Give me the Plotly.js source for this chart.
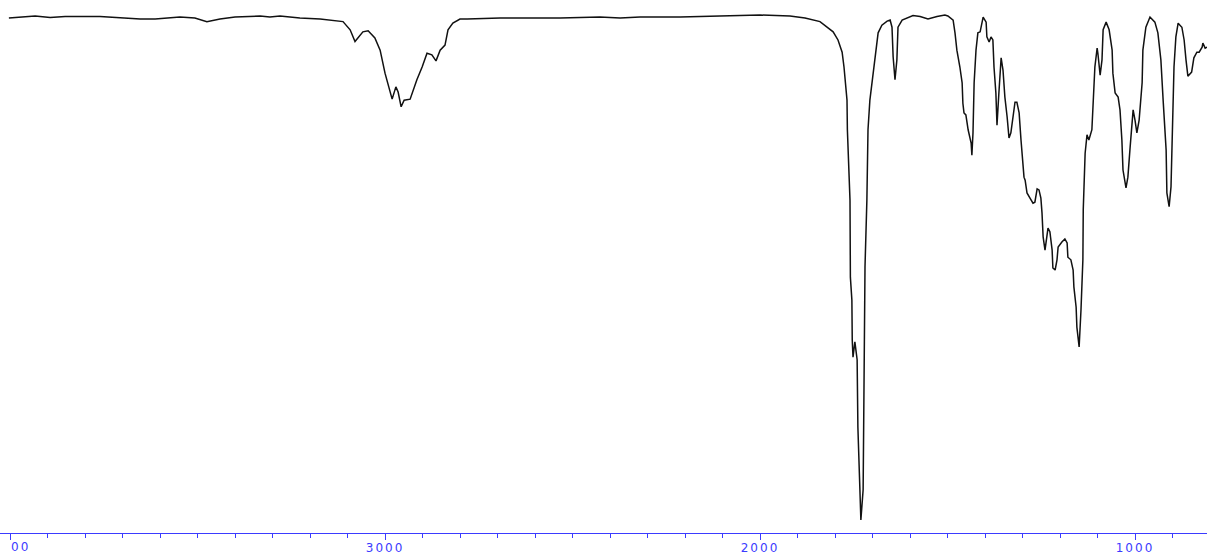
<!DOCTYPE html>
<html>
<head>
<meta charset="utf-8">
<script src="https://cdn.plot.ly/plotly-3.0.1.min.js"></script>
<style>
html,body{margin:0;padding:0;background:#fff;}
#chart{width:1207px;height:554px;}
.xtick text, .annotation-text{letter-spacing:2px;}
</style>
</head>
<body>
<div id="chart"></div>
<script>
// Wavenumber (cm-1) and transmittance (%)
const wavenumber = [4003,3933,3893,3853,3760,3680,3653,3613,3547,3507,3475,3440,3400,3333,3307,3280,3227,3173,3147,3112,3093,3080,3059,3045,3027,3013,3000,2981,2971,2965,2957,2949,2933,2915,2901,2888,2875,2864,2853,2840,2832,2819,2800,2781,2693,2533,2427,2373,2320,2213,2107,2000,1920,1880,1840,1821,1805,1792,1781,1776,1768,1767,1760,1759,1755,1754,1752,1747,1741,1739,1733,1731,1725,1724,1723,1720,1715,1712,1707,1699,1693,1685,1675,1661,1653,1648,1645,1640,1635,1632,1621,1592,1573,1552,1528,1507,1499,1485,1480,1475,1467,1461,1459,1456,1451,1445,1437,1435,1432,1429,1424,1419,1413,1408,1405,1397,1395,1389,1384,1379,1376,1371,1368,1363,1360,1357,1352,1347,1341,1336,1331,1325,1320,1315,1309,1304,1299,1296,1293,1288,1280,1272,1267,1261,1256,1251,1248,1245,1240,1235,1232,1227,1221,1219,1213,1208,1205,1195,1187,1181,1179,1171,1165,1163,1157,1155,1149,1144,1141,1139,1138,1133,1128,1123,1115,1112,1107,1101,1099,1093,1088,1085,1077,1069,1061,1059,1053,1045,1040,1035,1032,1024,1019,1013,1005,1000,995,989,981,979,971,960,947,939,931,925,917,915,909,904,901,896,891,885,875,869,864,859,849,843,835,829,821,819,813,808];
const transmittance = [99.4,99.8,99.5,99.7,99.7,99.4,99.2,99.2,99.6,99.4,98.7,99.2,99.6,99.8,99.6,99.8,99.4,99.2,99.0,98.7,97.1,94.8,96.7,96.9,95.5,93.1,88.6,83.5,85.9,84.9,82.0,83.3,83.5,87.3,89.8,92.5,92.2,91.0,93.1,94.1,97.1,98.4,99.2,99.2,99.4,99.4,99.6,99.4,99.6,99.6,99.8,100.0,99.8,99.4,98.7,97.7,96.7,95.1,92.7,89.8,83.3,77.5,63.7,48.6,44.1,36.3,32.9,35.9,32.4,19.2,6.3,1.0,6.9,14.7,37.6,50.6,63.7,77.5,83.3,87.8,91.8,96.5,98.0,98.8,99.0,97.6,91.8,87.3,91.2,97.6,99.0,99.9,99.7,99.2,99.7,100.0,99.8,99.0,96.5,93.1,89.8,86.7,82.7,80.8,80.4,77.5,74.9,72.5,76.9,86.7,93.1,96.5,96.7,98.4,99.6,98.6,95.7,94.7,95.7,95.1,89.8,84.7,78.4,84.7,89.8,91.6,89.2,83.9,80.0,75.9,76.9,80.8,82.9,82.9,80.8,75.5,71.6,68.2,67.6,65.1,64.1,63.1,63.3,65.9,65.7,64.1,61.2,56.5,53.9,56.5,58.2,57.5,53.9,50.4,50.0,52.0,54.5,55.5,56.1,55.3,52.5,52.0,50.0,46.7,42.7,38.8,34.9,42.2,47.5,52.0,61.8,72.9,76.5,75.5,77.5,83.3,89.8,93.5,92.5,88.2,91.2,97.1,98.6,97.1,93.1,88.6,84.7,83.9,81.4,75.5,69.6,66.1,68.2,74.1,81.4,79.4,76.9,79.4,86.7,93.1,97.6,99.6,98.6,96.5,91.2,83.3,73.5,65.1,62.4,66.3,76.9,89.8,95.7,98.4,97.6,95.1,91.2,88.0,88.8,91.6,92.7,92.7,93.7,94.5,93.5,93.7];
const tickValues = [4000,3000,2000,1000];
const tickLabels = ["","3000","2000","1000"];
const edgeLabel = "00";       // visible remainder of the clipped "4000" label
const edgeLabelPos = 3973;    // its centre on the wavenumber axis

const trace = {
  x: wavenumber, y: transmittance, type: 'scatter', mode: 'lines',
  line: {color: '#111111', width: 1.5}, hoverinfo: 'skip'
};
const blue = '#3b3bff';
const tickFont = {family: 'DejaVu Sans', size: 12, color: blue};
const layout = {
  width: 1207, height: 554,
  margin: {l: 0, r: 0, t: 0, b: 21, pad: 0},
  paper_bgcolor: '#ffffff', plot_bgcolor: '#ffffff',
  showlegend: false,
  xaxis: {
    range: [4026.7, 808], showgrid: false, zeroline: false,
    showline: true, linecolor: blue, linewidth: 1,
    ticks: 'outside', ticklen: 6, tickwidth: 1, tickcolor: blue,
    tickmode: 'array', tickvals: tickValues, ticktext: tickLabels,
    ticklabelstandoff: -2,
    tickfont: tickFont,
    minor: {dtick: 100, tick0: 0, ticks: 'outside', ticklen: 4, tickwidth: 1, tickcolor: blue, showgrid: false}
  },
  yaxis: {range: [-1.57, 102.94], visible: false, showgrid: false, zeroline: false, fixedrange: true},
  annotations: [{
    text: edgeLabel, x: edgeLabelPos, xref: 'x', y: 0, yref: 'paper',
    xanchor: 'center', yanchor: 'top', yshift: -6, showarrow: false,
    font: tickFont, borderpad: 0
  }]
};
Plotly.newPlot('chart', [trace], layout, {displayModeBar: false, staticPlot: true});
</script>
</body>
</html>
